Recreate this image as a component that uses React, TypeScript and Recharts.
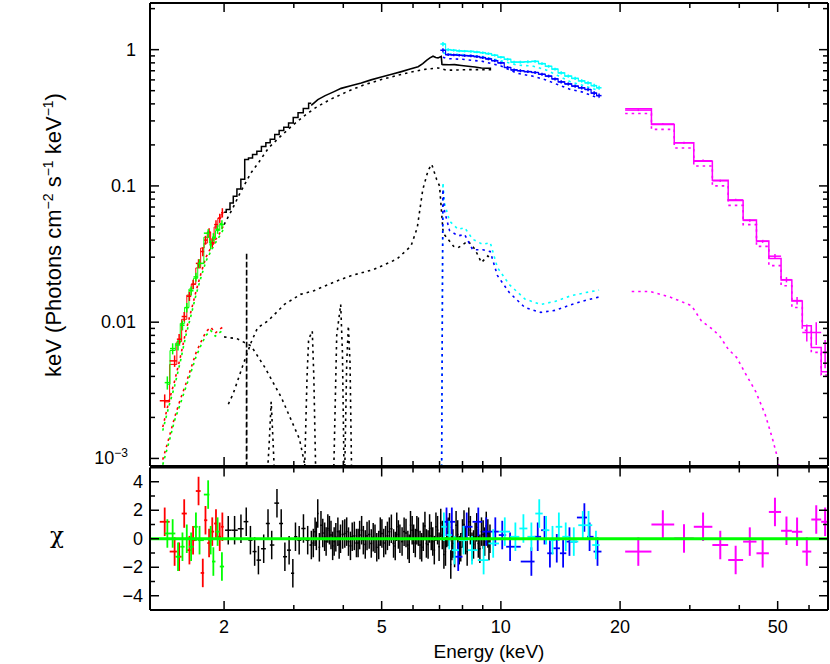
import React from 'react'
import { ComposedChart, Line, Scatter, ErrorBar, XAxis, YAxis, ReferenceLine } from 'recharts'

const FONT = '"Liberation Sans", Arial, Helvetica, sans-serif'

// ---- axes ----
const xDomain = [1.3, 67]
const xTicks = [2, 3, 4, 5, 6, 7, 8, 9, 10, 20, 30, 40, 50, 60]
const xLabelled = [2, 5, 10, 20, 50]
const fluxDomain = [8.8e-4, 2.2]
const fluxTicks = [
  0.001, 0.002, 0.003, 0.004, 0.005, 0.006, 0.007, 0.008, 0.009,
  0.01, 0.02, 0.03, 0.04, 0.05, 0.06, 0.07, 0.08, 0.09,
  0.1, 0.2, 0.3, 0.4, 0.5, 0.6, 0.7, 0.8, 0.9, 1, 2,
]
const chiDomain = [-5, 5]
const chiTicks = [-4, -3, -2, -1, 0, 1, 2, 3, 4]
const chiLabelled = [-4, -2, 0, 2, 4]

// ---- red / green (soft) ----
const redE = [1.416, 1.5, 1.54, 1.586, 1.635, 1.67, 1.724, 1.767, 1.795, 1.833, 1.867, 1.908, 1.95, 1.98]
const redFlux = [0.00265, 0.0052, 0.0075, 0.011, 0.0155, 0.019, 0.027, 0.033, 0.04, 0.0454, 0.0383, 0.052, 0.058, 0.0636]
const redFluxErr = [0.0003, 0.0005, 0.0007, 0.0009, 0.0012, 0.0015, 0.002, 0.0025, 0.003, 0.0035, 0.003, 0.004, 0.0045, 0.005]
const redModel = [0.0026, 0.0049, 0.0072, 0.0105, 0.0158, 0.019, 0.025, 0.035, 0.038, 0.046, 0.0375, 0.05, 0.058, 0.062]
const redChi = [1.19, -0.9, -1.26, 1.77, -0.8, -0.1, 3.35, -2.4, 1.3, -0.3, 0.5, 1.07, 0.14, 0.84]

const greenE = [1.438, 1.483, 1.53, 1.57, 1.61, 1.651, 1.698, 1.734, 1.823, 1.85, 1.879, 1.926, 1.975]
const greenFlux = [0.0036, 0.0064, 0.0068, 0.0095, 0.0128, 0.017, 0.0215, 0.027, 0.045, 0.037, 0.042, 0.048, 0.052]
const greenFluxErr = [0.0004, 0.0006, 0.0006, 0.0008, 0.001, 0.0013, 0.0016, 0.002, 0.003, 0.0028, 0.003, 0.0035, 0.004]
const greenModel = [0.0035, 0.0062, 0.007, 0.0098, 0.0128, 0.0175, 0.021, 0.027, 0.042, 0.038, 0.041, 0.047, 0.053]
const greenChi = [0.37, 0.37, -1.26, -0.56, 0, -0.56, 0.84, -0.1, 3.1, -0.1, -1.6, 0.5, -1.95]

const softCompE = [1.4, 1.45, 1.5, 1.55, 1.6, 1.65, 1.7, 1.75, 1.8, 1.85, 1.9, 1.95, 2.0]
const redPow = [0.0017, 0.0026, 0.0037, 0.0055, 0.0085, 0.012, 0.017, 0.023, 0.03, 0.035, 0.04, 0.045, 0.052]
const greenPow = [0.0016, 0.0024, 0.0034, 0.0051, 0.0079, 0.0112, 0.016, 0.0215, 0.028, 0.033, 0.038, 0.043, 0.049]
const redBb = [0.00098, 0.0014, 0.002, 0.0027, 0.0035, 0.0046, 0.006, 0.0072, 0.0085, 0.0092, 0.0083, 0.0089, 0.0093]
const greenBb = [0.0009, 0.0013, 0.0019, 0.0025, 0.0033, 0.0043, 0.0056, 0.0068, 0.008, 0.0087, 0.0079, 0.0084, 0.0088]

// ---- black ----
// coarse channels below ~3.3 keV show as steps, finer ones above look smooth
const blackStepE = [2.0, 2.05, 2.09, 2.13, 2.18, 2.23, 2.28, 2.33, 2.39, 2.45, 2.52, 2.58, 2.65, 2.72, 2.79, 2.87, 2.95, 3.03, 3.12, 3.22, 3.32]
const blackStep = [0.064, 0.067, 0.075, 0.084, 0.095, 0.112, 0.156, 0.16, 0.17, 0.18, 0.195, 0.207, 0.22, 0.238, 0.255, 0.27, 0.29, 0.318, 0.344, 0.37, 0.405]
const blackSmoothE = [3.32, 3.45, 3.6, 3.78, 3.95, 4.2, 4.44, 4.7, 4.99, 5.3, 5.61, 5.9, 6.18, 6.35, 6.49, 6.62, 6.74, 6.85, 6.94, 7.07, 7.1, 7.14, 7.4, 7.64, 7.95, 8.26, 8.6, 8.93, 9.2, 9.45]
const blackSmooth = [0.39, 0.43, 0.46, 0.49, 0.52, 0.545, 0.57, 0.6, 0.63, 0.66, 0.69, 0.72, 0.75, 0.79, 0.835, 0.87, 0.895, 0.875, 0.87, 0.893, 0.78, 0.776, 0.775, 0.776, 0.765, 0.755, 0.745, 0.734, 0.73, 0.73]

const blackContE = [2.0, 2.1, 2.2, 2.34, 2.45, 2.59, 2.75, 2.96, 3.2, 3.4, 3.7, 4.11, 4.5, 4.99, 5.5, 6.05, 6.5, 6.94, 7.3, 7.8, 8.26, 8.8, 9.45]
const blackCont = [0.052, 0.068, 0.09, 0.125, 0.15, 0.19, 0.225, 0.274, 0.33, 0.374, 0.43, 0.495, 0.55, 0.603, 0.65, 0.694, 0.72, 0.734, 0.706, 0.71, 0.714, 0.714, 0.712]

const blackReflE = [2.05, 2.11, 2.23, 2.34, 2.43, 2.58, 2.84, 3.12, 3.37, 3.79, 4.18, 4.78, 5.46, 5.93, 6.15, 6.35, 6.55, 6.69, 6.88, 7.0, 7.15, 7.6, 7.8, 8.26, 8.6, 8.93, 9.27, 9.45]
const blackRefl = [0.0025, 0.003, 0.0048, 0.0071, 0.0091, 0.0102, 0.0135, 0.016, 0.017, 0.0197, 0.0219, 0.0244, 0.029, 0.0362, 0.0494, 0.094, 0.13, 0.144, 0.112, 0.1, 0.045, 0.036, 0.0352, 0.0394, 0.0343, 0.0274, 0.0306, 0.029]

const blackBbE = [2.0, 2.05, 2.15, 2.34, 2.53, 2.79, 3.1, 3.19, 3.3]
const blackBb = [0.0078, 0.0077, 0.0076, 0.0067, 0.0047, 0.0028, 0.00139, 0.00093, 0.0006]

// emission lines
const line1E = [2.278, 2.28, 2.282]
const line1 = [0.0005, 0.0324, 0.0005]
const line2E = [2.56, 2.6, 2.63, 2.66, 2.69]
const line2 = [0.0006, 0.0013, 0.0026, 0.0013, 0.0006]
const line3E = [3.19, 3.24, 3.27, 3.34, 3.37, 3.41]
const line3 = [0.0007, 0.004, 0.0075, 0.0086, 0.004, 0.0007]
const line4E = [3.78, 3.85, 3.94, 3.98, 4.02]
const line4 = [0.0007, 0.008, 0.0135, 0.006, 0.0007]
const line5E = [4.03, 4.08, 4.12, 4.16, 4.2]
const line5 = [0.0007, 0.005, 0.0094, 0.005, 0.0007]

const blackResE = [2.049, 2.126, 2.206, 2.275, 2.331, 2.389, 2.442, 2.518, 2.582, 2.638, 2.72, 2.788, 2.848, 2.919, 2.983, 3.029, 3.095, 3.173, 3.252, 3.322, 3.395, 3.448, 3.513, 3.589, 3.656, 3.724, 3.793, 3.876, 3.936, 4.035, 4.123, 4.213, 4.318, 4.399, 4.495, 4.592, 4.707, 4.81, 4.915, 5.007, 5.116, 5.228, 5.358, 5.458, 5.559, 5.697, 5.822, 5.913, 6.023, 6.135, 6.25, 6.367, 6.485, 6.607, 6.73, 6.855, 6.982, 7.112, 7.246, 7.359, 7.473, 7.565, 7.707, 7.851, 7.998, 8.147, 8.298, 8.453, 8.61, 8.77, 8.934, 9.101, 9.27, 9.386]
const blackChi = [0.6, 0.6, 0.7, 1.2, -0.1, -0.9, -1.5, -0.7, 1.07, -0.44, 2.5, 1.07, -1.26, -0.8, -2.42, 0.14, -0.1, 0.72, -0.1, -0.44, 0.5, 1.77, 0.95, 0.14, 0.72, 0.26, -0.2, 0.5, 0, 0.37, -0.2, 0.14, -0.3, 0.26, -0.1, 0.2, -0.33, 0, -0.44, 0.37, -0.1, 0.5, -0.33, 0.84, 0, 0.5, -0.44, 0.95, 0, 0.6, -0.44, 0.14, -0.33, 0.72, -0.2, 0.84, -0.56, 0.26, -0.9, 0.5, -1.8, -0.33, 0.95, -0.8, 0.37, -0.1, 1.19, -0.56, 0.14, -0.33, 0.5, -0.2, 0.37, 0]
// the dense channels in between above 3.3 keV
const blackResFineE = [3.36, 3.42, 3.48, 3.55, 3.62, 3.69, 3.76, 3.83, 3.905, 3.985, 4.08, 4.17, 4.265, 4.36, 4.45, 4.545, 4.65, 4.76, 4.86, 4.96, 5.06, 5.17, 5.29, 5.41, 5.51, 5.63, 5.76, 5.87, 5.97, 6.08, 6.19, 6.31, 6.43, 6.55, 6.67, 6.79, 6.92, 7.05, 7.18, 7.3, 7.42, 7.52, 7.64, 7.78, 7.92, 8.07, 8.22, 8.375, 8.53, 8.69, 8.85, 9.02, 9.185, 9.33]
const blackChiFine = [-0.3, 0.2, -0.6, 0.4, -0.2, 0.6, -0.5, 0.1, -0.4, 0.3, 0.5, -0.5, 0.2, -0.3, 0.6, -0.4, 0.3, 0.1, -0.6, 0.5, -0.3, 0.2, 0.7, -0.5, 0.3, -0.2, 0.4, -0.7, 0.6, -0.3, 0.5, -0.6, 0.9, -0.4, 0.2, -0.8, 0.6, 1.1, -1.1, 0.4, 0.8, -0.5, -1.0, 0.3, -0.6, 1.0, -0.9, 0.6, -0.4, 0.8, -0.7, 0.3, 0.9, -0.5]

// ---- cyan / blue (hard) ----
const hardE = [7.14, 7.36, 7.6, 7.85, 8.1, 8.4, 8.7, 9.0, 9.3, 9.65, 10.0, 10.4, 10.8, 11.2, 11.7, 12.2, 12.7, 13.2, 13.7, 14.2, 14.8, 15.4, 16.0, 16.6, 17.2, 17.7]
const cyanFlux = [1.1, 1.0, 0.99, 0.98, 0.975, 0.97, 0.96, 0.95, 0.935, 0.91, 0.88, 0.85, 0.81, 0.81, 0.815, 0.82, 0.79, 0.755, 0.72, 0.675, 0.64, 0.615, 0.59, 0.57, 0.545, 0.525]
const cyanFluxErr = [0.04, 0.025, 0.022, 0.022, 0.02, 0.02, 0.02, 0.02, 0.02, 0.02, 0.02, 0.02, 0.02, 0.02, 0.02, 0.02, 0.02, 0.018, 0.018, 0.018, 0.017, 0.017, 0.017, 0.016, 0.016, 0.018]
const blueFlux = [0.99, 0.92, 0.915, 0.91, 0.905, 0.9, 0.89, 0.875, 0.855, 0.83, 0.8, 0.74, 0.71, 0.7, 0.69, 0.68, 0.66, 0.64, 0.61, 0.58, 0.56, 0.54, 0.525, 0.51, 0.48, 0.46]
const blueFluxErr = [0.035, 0.022, 0.02, 0.02, 0.02, 0.02, 0.02, 0.02, 0.02, 0.02, 0.018, 0.018, 0.018, 0.018, 0.017, 0.017, 0.017, 0.016, 0.016, 0.016, 0.015, 0.015, 0.015, 0.015, 0.015, 0.017]

const hardContE = [7.14, 7.3, 8.0, 9.0, 10.0, 11.0, 12.0, 13.0, 14.0, 15.0, 16.0, 17.7]
const cyanCont = [0.95, 0.93, 0.92, 0.89, 0.83, 0.77, 0.76, 0.71, 0.64, 0.58, 0.55, 0.5]
const blueCont = [0.88, 0.86, 0.85, 0.82, 0.76, 0.67, 0.64, 0.6, 0.55, 0.51, 0.49, 0.44]

const hardReflE = [7.08, 7.12, 7.14, 7.2, 7.42, 7.8, 8.1, 8.49, 9.0, 9.4, 9.8, 10.5, 11.5, 12.6, 13.7, 15.0, 16.4, 17.7]
const cyanRefl = [0.0005, 0.02, 0.106, 0.0753, 0.0552, 0.048, 0.0494, 0.0406, 0.0372, 0.0384, 0.0252, 0.0189, 0.0148, 0.0135, 0.0142, 0.0156, 0.0165, 0.0172]
const blueRefl = [0.0005, 0.018, 0.095, 0.066, 0.047, 0.043, 0.044, 0.034, 0.034, 0.033, 0.022, 0.0165, 0.0128, 0.0118, 0.0122, 0.0134, 0.0145, 0.0153]

const cyanResE = [7.18, 7.405, 7.636, 8.048, 8.453, 9.045, 9.563, 10.23, 10.88, 11.4, 11.94, 12.5, 13.01, 13.5, 14.01, 14.58, 15.28, 16.1, 16.65, 17.38]
const cyanChi = [0.84, 0.26, -0.8, -0.1, -0.8, -1.5, -0.33, 0.5, 0.14, 0.72, 0.14, 1.77, 0.6, -0.1, 0.84, 0.14, -0.2, 0.95, 0.95, -0.44]
const blueResE = [7.29, 7.519, 7.803, 8.199, 8.77, 9.185, 9.681, 10.08, 10.55, 11.94, 12.39, 12.89, 13.3, 13.84, 14.36, 14.9, 16.25, 16.75, 17.54]
const blueChi = [1.19, 1.19, -1.26, 0.84, 1.19, 0.5, 0.5, 0.26, -0.56, -1.6, 0.14, 0.6, -1.02, -0.67, -1.02, -0.2, 1.49, 0.14, -0.9]

// ---- magenta (hard X-ray) ----
const magEdges = [20.6, 24.0, 27.4, 30.7, 34.2, 37.5, 40.9, 44.2, 47.5, 51.0, 54.3, 57.7, 60.8, 64.4, 67.4]
const magModel = [0.368, 0.282, 0.207, 0.152, 0.11, 0.0783, 0.0562, 0.0394, 0.0293, 0.0204, 0.0143, 0.0094, 0.00653, 0.00433]
const magCont = [0.34, 0.26, 0.19, 0.14, 0.1, 0.072, 0.052, 0.036, 0.026, 0.0185, 0.0128, 0.0087, 0.006, 0.0041]
const magFlux = [0.36, 0.285, 0.207, 0.153, 0.109, 0.079, 0.0558, 0.0392, 0.0305, 0.0205, 0.0144, 0.0084, 0.0084, 0.006]
const magFluxErr = [0.006, 0.005, 0.004, 0.003, 0.002, 0.0015, 0.0012, 0.001, 0.0012, 0.0009, 0.0009, 0.0012, 0.0016, 0.0014]
const magChi = [-0.9, 1.0, 0.02, 0.84, -0.44, -1.49, -0.2, -1.02, 1.88, 0.56, 0.49, -0.9, 1.35, 1.19]
const magReflE = [21.4, 23.8, 26.9, 30.3, 32.1, 34.2, 35.7, 37.5, 39.4, 41.3, 44.0, 46.5, 48.5, 50.0, 51.0]
const magRefl = [0.0168, 0.0168, 0.0152, 0.0132, 0.0102, 0.0089, 0.0079, 0.00634, 0.0055, 0.00428, 0.0031, 0.0021, 0.0014, 0.001, 0.0007]

// ---- helpers to build the tables recharts wants ----
type Pt = { e: number; v: number; ex?: number[]; ey?: number }

const pts = (es: number[], vs: number[]): Pt[] => es.map((e, i) => ({ e, v: vs[i] }))

// half-bin widths from the neighbouring channels
function binHalfWidths(es: number[]): number[][] {
  const n = es.length
  return es.map((e, i) => {
    const lo = i > 0 ? Math.sqrt(es[i - 1] * e) : e / Math.sqrt(es[1] / e)
    const hi = i < n - 1 ? Math.sqrt(es[i + 1] * e) : e * Math.sqrt(e / es[n - 2])
    return [e - lo, hi - e]
  })
}

const crosses = (es: number[], vs: number[], errs: number[] | null): Pt[] => {
  const w = binHalfWidths(es)
  return es.map((e, i) => ({ e, v: vs[i], ex: w[i], ey: errs ? errs[i] : 1 }))
}

// merge two residual lists into one sorted channel list
function merged(e1: number[], v1: number[], e2: number[], v2: number[]) {
  const all = pts(e1, v1).concat(pts(e2, v2)).sort((a, b) => a.e - b.e)
  return crosses(all.map((p) => p.e), all.map((p) => p.v), null)
}

const magCentres = magModel.map((_, i) => Math.sqrt(magEdges[i] * magEdges[i + 1]))
const histo = (edges: number[], vals: number[]): Pt[] =>
  edges.map((e, i) => ({ e, v: vals[Math.min(i, vals.length - 1)] }))

const magCross = (vs: number[], errs: number[] | null): Pt[] =>
  magCentres.map((c, i) => ({
    e: c,
    v: vs[i],
    ex: [c - magEdges[i], magEdges[i + 1] - c],
    ey: errs ? errs[i] : 1,
  }))

// ---- ticks & labels ----
function XTick(props: any) {
  const { x, y, payload, top, labels } = props
  const v = payload.value as number
  const major = xLabelled.includes(v)
  const len = major ? 9 : 5
  return (
    <g>
      <line x1={x} x2={x} y1={y} y2={y - len} stroke="#000" strokeWidth={1.5} />
      <line x1={x} x2={x} y1={top} y2={top + len} stroke="#000" strokeWidth={1.5} />
      {labels && major ? (
        <text x={x} y={y + 23} textAnchor="middle" fontSize={18} fontFamily={FONT} fill="#000">
          {v}
        </text>
      ) : null}
    </g>
  )
}

function FluxTick(props: any) {
  const { x, y, payload, right } = props
  const v = payload.value as number
  const major = v === 1 || v === 0.1 || v === 0.01 || v === 0.001
  const len = major ? 9 : 5
  let label: React.ReactNode = null
  if (v === 0.001) {
    label = (
      <text x={x - 22} y={y + 6} textAnchor="end" fontSize={18} fontFamily={FONT} fill="#000">
        10<tspan dy={-7} fontSize={12}>−3</tspan>
      </text>
    )
  } else if (major) {
    label = (
      <text x={x - 14} y={y + 6} textAnchor="end" fontSize={18} fontFamily={FONT} fill="#000">
        {String(v)}
      </text>
    )
  }
  return (
    <g>
      <line x1={x} x2={x + len} y1={y} y2={y} stroke="#000" strokeWidth={1.5} />
      <line x1={right} x2={right - len} y1={y} y2={y} stroke="#000" strokeWidth={1.5} />
      {label}
    </g>
  )
}

function ChiTick(props: any) {
  const { x, y, payload, right } = props
  const v = payload.value as number
  const major = chiLabelled.includes(v)
  const len = major ? 9 : 5
  return (
    <g>
      <line x1={x} x2={x + len} y1={y} y2={y} stroke="#000" strokeWidth={1.5} />
      <line x1={right} x2={right - len} y1={y} y2={y} stroke="#000" strokeWidth={1.5} />
      {major ? (
        <text x={x - 7} y={y + 6} textAnchor="end" fontSize={18} fontFamily={FONT} fill="#000">
          {v < 0 ? `−${-v}` : String(v)}
        </text>
      ) : null}
    </g>
  )
}

function FluxLabel() {
  return (
    <text transform="translate(61,235) rotate(-90)" textAnchor="middle" fontSize={22} fontFamily={FONT} fill="#000">
      keV (Photons cm<tspan dy={-8} fontSize={14}>−2</tspan>
      <tspan dy={8}> s</tspan>
      <tspan dy={-8} fontSize={14}>−1</tspan>
      <tspan dy={8}> keV</tspan>
      <tspan dy={-8} fontSize={14}>−1</tspan>
      <tspan dy={8}>)</tspan>
    </text>
  )
}

function ChiLabel() {
  return (
    <text x={57} y={83} textAnchor="middle" fontSize={23} fontFamily='"DejaVu Serif", serif' fill="#000">
      χ
    </text>
  )
}

function EnergyLabel() {
  return (
    <text x={489} y={197.5} textAnchor="middle" fontSize={19} fontFamily={FONT} fill="#000">
      Energy (keV)
    </text>
  )
}

const Nothing = () => <g />

const DOT = '2.5 4'

function model(key: string, data: Pt[], color: string, dashed?: string, type: any = 'linear', width = 1.6) {
  return (
    <Line
      key={key}
      data={data}
      dataKey="v"
      type={type}
      stroke={color}
      strokeWidth={width}
      strokeDasharray={dashed}
      dot={false}
      activeDot={false}
      isAnimationActive={false}
    />
  )
}

function data(key: string, d: Pt[], color: string, sw = 1.5) {
  return (
    <Scatter key={key} data={d} fill={color} shape={Nothing} isAnimationActive={false}>
      <ErrorBar dataKey="ey" direction="y" width={0} stroke={color} strokeWidth={sw} isAnimationActive={false} />
      <ErrorBar dataKey="ex" direction="x" width={0} stroke={color} strokeWidth={sw} isAnimationActive={false} />
    </Scatter>
  )
}

function frame(yDomain: number[]) {
  const s = { stroke: '#000', strokeWidth: 2, ifOverflow: 'visible' as const }
  return [
    <ReferenceLine key="fl" x={xDomain[0]} {...s} />,
    <ReferenceLine key="fr" x={xDomain[1]} {...s} />,
    <ReferenceLine key="fb" y={yDomain[0]} {...s} />,
    <ReferenceLine key="ft" y={yDomain[1]} {...s} />,
  ]
}

export default function App() {
  return (
    <div style={{ position: 'absolute', left: 0, top: 0, width: 830, height: 664, background: '#fff', fontFamily: FONT }}>
      <div style={{ position: 'absolute', left: 0, top: 0 }}>
        <ComposedChart width={830} height={470} margin={{ top: 3, right: 2, bottom: 2, left: 90 }}>
          <XAxis
            type="number"
            dataKey="e"
            scale="log"
            domain={xDomain}
            allowDataOverflow
            ticks={xTicks}
            interval={0}
            height={2}
            tickSize={0}
            tickMargin={0}
            tickLine={false}
            axisLine={false}
            tick={<XTick top={3} labels={false} />}
          />
          <YAxis
            type="number"
            dataKey="v"
            scale="log"
            domain={fluxDomain}
            allowDataOverflow
            ticks={fluxTicks}
            interval={0}
            width={60}
            tickSize={0}
            tickMargin={0}
            tickLine={false}
            axisLine={false}
            tick={<FluxTick right={828} />}
            label={<FluxLabel />}
          />
          {model('rbb', pts(softCompE, redBb), '#ff0000', DOT)}
          {model('gbb', pts(softCompE, greenBb), '#00ff00', DOT)}
          {model('rpow', pts(softCompE, redPow), '#ff0000', DOT)}
          {model('gpow', pts(softCompE, greenPow), '#00ff00', DOT)}
          {model('bbb', pts(blackBbE, blackBb), '#000', DOT)}
          {model('brefl', pts(blackReflE, blackRefl), '#000', DOT)}
          {model('l1', pts(line1E, line1), '#000', '5 3')}
          {model('l2', pts(line2E, line2), '#000', DOT)}
          {model('l3', pts(line3E, line3), '#000', DOT)}
          {model('l4', pts(line4E, line4), '#000', DOT)}
          {model('l5', pts(line5E, line5), '#000', DOT)}
          {model('bcont', pts(blackContE, blackCont), '#000', DOT)}
          {model('crefl', pts(hardReflE, cyanRefl), '#00ffff', DOT)}
          {model('urefl', pts(hardReflE, blueRefl), '#0000ff', DOT)}
          {model('ccont', pts(hardContE, cyanCont), '#00ffff', DOT)}
          {model('ucont', pts(hardContE, blueCont), '#0000ff', DOT)}
          {model('mrefl', pts(magReflE, magRefl), '#ff00ff', DOT)}
          {model('mcont', histo(magEdges, magCont), '#ff00ff', DOT, 'stepAfter')}

          {model('rmod', pts(redE, redModel), '#ff0000', undefined, 'step', 1)}
          {model('gmod', pts(greenE, greenModel), '#00ff00', undefined, 'step', 1)}
          {model('bstep', pts(blackStepE, blackStep), '#000', undefined, 'step', 1.5)}
          {model('bsmooth', pts(blackSmoothE, blackSmooth), '#000', undefined, 'linear', 1.6)}
          {model('cmod', pts(hardE, cyanFlux), '#00ffff', undefined, 'step', 1.2)}
          {model('umod', pts(hardE, blueFlux), '#0000ff', undefined, 'step', 1.2)}
          {model('mmod', histo(magEdges, magModel), '#ff00ff', undefined, 'stepAfter', 1.5)}

          {data('rdat', crosses(redE, redFlux, redFluxErr), '#ff0000')}
          {data('gdat', crosses(greenE, greenFlux, greenFluxErr), '#00ff00')}
          {data('cdat', crosses(hardE, cyanFlux, cyanFluxErr), '#00ffff')}
          {data('udat', crosses(hardE, blueFlux, blueFluxErr), '#0000ff')}
          {data('mdat', magCross(magFlux, magFluxErr), '#ff00ff')}
          {frame(fluxDomain)}
        </ComposedChart>
      </div>
      <div style={{ position: 'absolute', left: 0, top: 460 }}>
        <ComposedChart width={830} height={204} margin={{ top: 7.5, right: 2, bottom: 24, left: 90 }}>
          <XAxis
            type="number"
            dataKey="e"
            scale="log"
            domain={xDomain}
            allowDataOverflow
            ticks={xTicks}
            interval={0}
            height={30}
            tickSize={0}
            tickMargin={0}
            tickLine={false}
            axisLine={false}
            tick={<XTick top={7.5} labels />}
            label={<EnergyLabel />}
          />
          <YAxis
            type="number"
            dataKey="v"
            domain={chiDomain}
            allowDataOverflow
            ticks={chiTicks}
            interval={0}
            width={60}
            tickSize={0}
            tickMargin={0}
            tickLine={false}
            axisLine={false}
            tick={<ChiTick right={828} />}
            label={<ChiLabel />}
          />
          {data('rres', crosses(redE, redChi, null), '#ff0000', 1.8)}
          {data('gres', crosses(greenE, greenChi, null), '#00ff00', 1.8)}
          {data('bres', merged(blackResE, blackChi, blackResFineE, blackChiFine), '#000', 1.5)}
          {data('ures', crosses(blueResE, blueChi, null), '#0000ff', 1.8)}
          {data('cres', crosses(cyanResE, cyanChi, null), '#00ffff', 1.8)}
          {data('mres', magCross(magChi, null), '#ff00ff', 2)}
          <ReferenceLine y={0} stroke="#00ff00" strokeWidth={3} />
          {frame(chiDomain)}
        </ComposedChart>
      </div>
    </div>
  )
}
